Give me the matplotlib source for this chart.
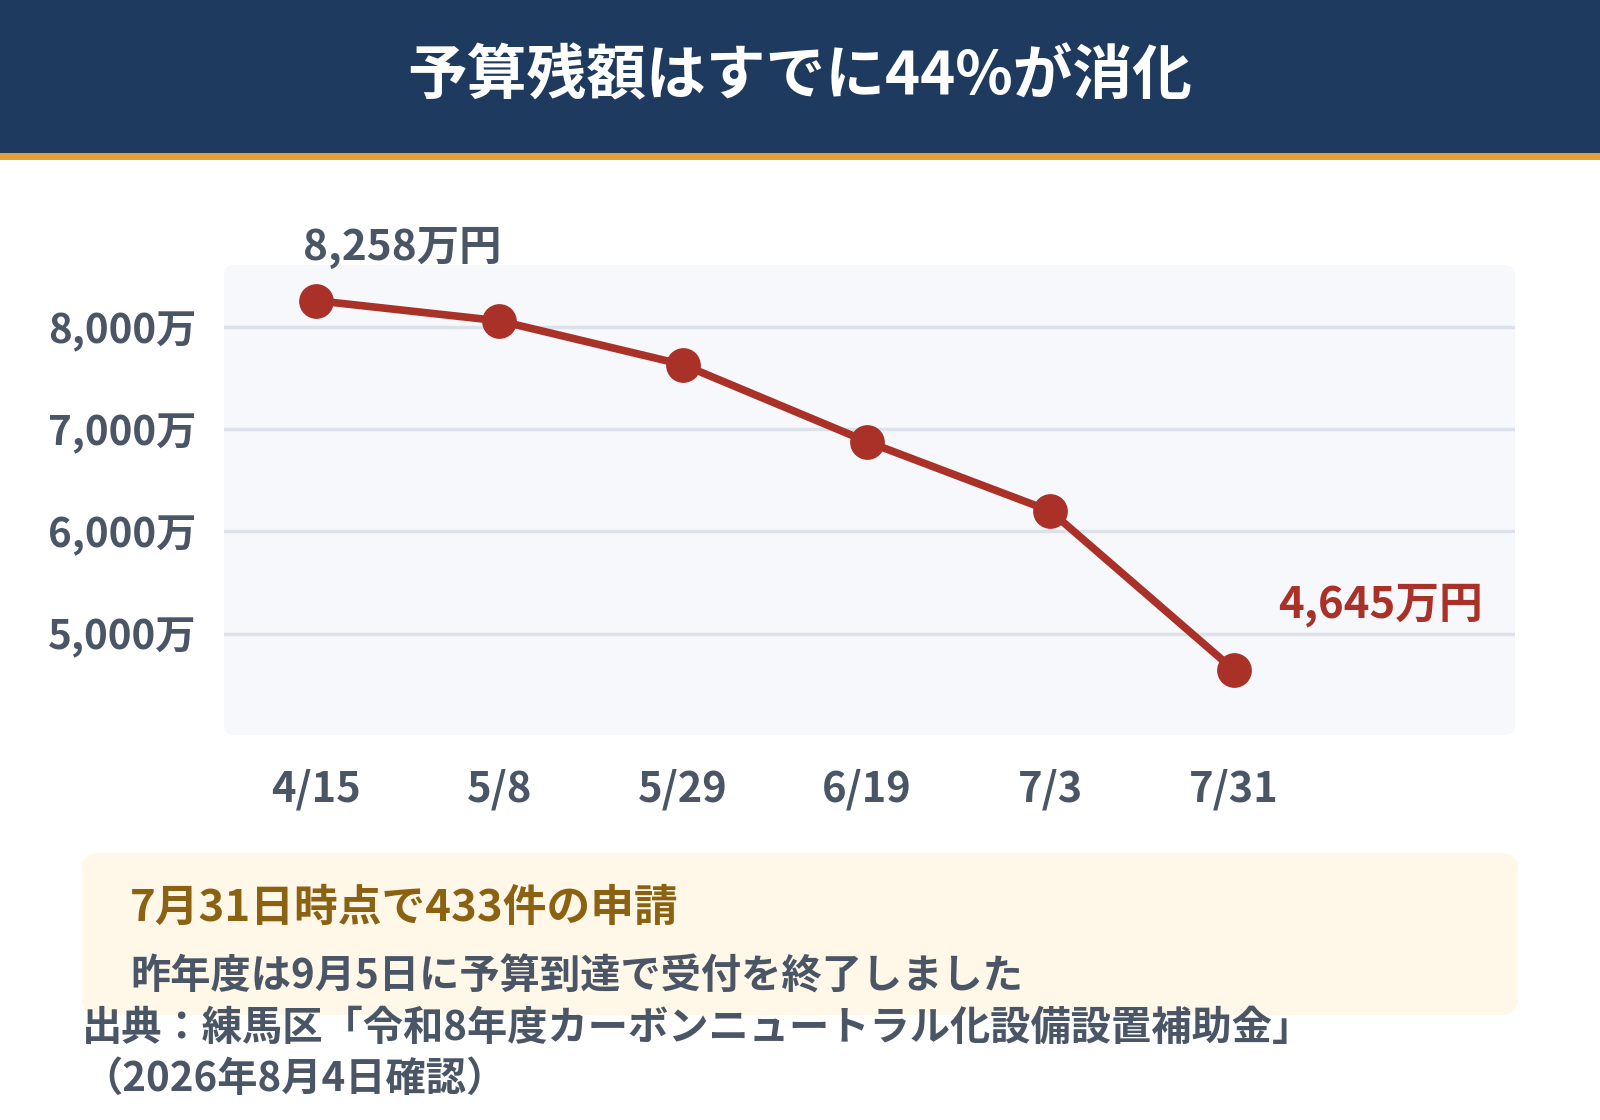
import matplotlib
matplotlib.use('Agg')
import matplotlib.pyplot as plt
from matplotlib.patches import FancyBboxPatch, Rectangle

plt.rcParams['font.family'] = ['Noto Sans CJK JP', 'DejaVu Sans']
plt.rcParams['font.weight'] = 'bold'

# data
dates = ['4/15', '5/8', '5/29', '6/19', '7/3', '7/31']
remaining = [8258, 8060, 7631, 6880, 6200, 4645]
y_ticks = [5000, 6000, 7000, 8000]
y_tick_labels = ['5,000万', '6,000万', '7,000万', '8,000万']

title = '予算残額はすでに44%が消化'
first_label = '8,258万円'
last_label = '4,645万円'
note_head = '7月31日時点で433件の申請'
note_body = '昨年度は9月5日に予算到達で受付を終了しました'
source_1 = '出典：練馬区「令和8年度カーボンニュートラル化設備設置補助金」'
source_2 = '（2026年8月4日確認）'

NAVY = '#1f3a5f'
ORANGE = '#e3a03a'
RED = '#a93128'
SLATE = '#4a5565'
GOLD = '#8a6212'

fig = plt.figure(figsize=(16, 11.2), dpi=100)
W, H = 1600, 1120


def fx(px):
    return px / W


def fy(py):
    return 1 - py / H


# header band
fig.patches.append(Rectangle((0, fy(153)), 1, 153 / H, transform=fig.transFigure,
                             facecolor=NAVY, edgecolor='none', zorder=0))
fig.patches.append(Rectangle((0, fy(160)), 1, 7 / H, transform=fig.transFigure,
                             facecolor=ORANGE, edgecolor='none', zorder=0))
fig.text(0.5, fy(77), title, color='white', fontsize=43, ha='center', va='center')

# chart area
left, right, top, bottom = 224, 1515, 265, 735
ax = fig.add_axes([fx(left), fy(bottom), fx(right - left), (bottom - top) / H])
ax.patch.set_visible(False)
bg = FancyBboxPatch((0, 0), 1, 1, boxstyle='round,pad=0,rounding_size=0.008',
                    transform=ax.transAxes, facecolor='#f6f8fb', edgecolor='none',
                    zorder=-5, clip_on=False, mutation_aspect=(right - left) / (bottom - top))
ax.add_patch(bg)

x = list(range(len(dates)))
ax.plot(x, remaining, color=RED, lw=5.5, marker='o', markersize=24, zorder=3,
        solid_capstyle='round')

ax.set_xlim(-0.5, 6.53)
ax.set_ylim(4010, 8606)
ax.set_yticks(y_ticks)
ax.set_yticklabels(y_tick_labels)
ax.set_xticks(x)
ax.set_xticklabels(dates)
ax.grid(axis='y', color='#dde2ea', lw=2.5, zorder=0)
ax.tick_params(axis='y', length=0, pad=20, labelsize=29, labelcolor=SLATE)
ax.tick_params(axis='x', length=0, pad=24, labelsize=30, labelcolor=SLATE)
for s in ax.spines.values():
    s.set_visible(False)

ax.annotate(first_label, (x[0], remaining[0]), xytext=(-9, 23), textcoords='offset points',
            ha='left', va='bottom', fontsize=30.5, color=SLATE, annotation_clip=False)
ax.annotate(last_label, (x[-1], remaining[-1]), xytext=(32, 31), textcoords='offset points',
            ha='left', va='bottom', fontsize=31.5, color=RED, annotation_clip=False)

# note box
fig.patches.append(FancyBboxPatch((fx(82), fy(1015)), fx(1518 - 82), (1015 - 853) / H,
                                  boxstyle='round,pad=0,rounding_size=0.01',
                                  transform=fig.transFigure, facecolor='#fff7e8',
                                  edgecolor='none', zorder=0,
                                  mutation_aspect=W / H))
fig.text(fx(130), fy(908), note_head, color=GOLD, fontsize=31.5, ha='left', va='center')
fig.text(fx(130), fy(977), note_body, color=SLATE, fontsize=29, ha='left', va='center')
fig.text(fx(82), fy(1028), source_1, color=SLATE, fontsize=29, ha='left', va='center')
fig.text(fx(82), fy(1079), source_2, color=SLATE, fontsize=29, ha='left', va='center')

fig.savefig('out.png', dpi=100, facecolor='white')
